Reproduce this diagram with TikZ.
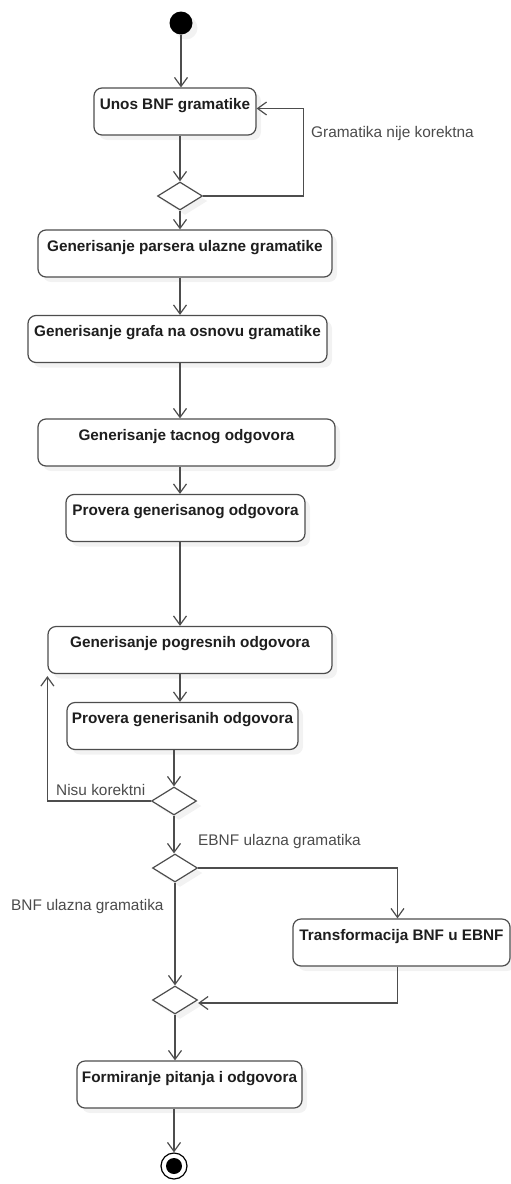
\documentclass[tikz,border=0pt]{standalone}
\usepackage{fontspec}
\setmainfont{Liberation Sans}
\usetikzlibrary{arrows.meta,positioning,shapes.geometric,shadows}
\definecolor{linegray}{RGB}{77,77,77}
\definecolor{textdark}{RGB}{30,30,30}
\definecolor{guardgray}{RGB}{75,75,75}
\tikzset{
  flow/.style={draw=linegray,line width=1.2pt,-{Straight Barb[length=9pt,width=13pt]}},
  softshadow/.style={drop shadow={shadow xshift=5pt,shadow yshift=-5pt,opacity=0.1}},
  act/.style={rectangle,rounded corners=8pt,draw=linegray,line width=1.2pt,fill=white,
    text=textdark,font=\fontsize{15.3}{18}\selectfont\bfseries,
    inner ysep=0pt,text height=21pt,text depth=26pt,softshadow},
  choice/.style={diamond,draw=linegray,line width=1.2pt,fill=white,inner sep=0pt,
    minimum width=45pt,minimum height=28pt,softshadow},
  initial/.style={circle,fill=black,inner sep=0pt,minimum size=23pt,softshadow},
  final/.style={circle,draw=black,line width=1.2pt,fill=white,inner sep=0pt,minimum size=26pt,
    path picture={\fill[black] (path picture bounding box.center) circle (8pt);}},
  guard/.style={text=guardgray,font=\fontsize{15.4}{18}\selectfont,inner sep=2pt}
}

\begin{document}
\begin{tikzpicture}[x=1pt,y=-1pt]
  \useasboundingbox (0,0) rectangle (511,1184);
  % column of the main flow
  \coordinate (spine) at (180,0);

  % activities and decisions
  \node[initial] (start) at (181,23) {};
  \node[act,minimum width=162pt] (unos) at (175,111.5) {Unos BNF gramatike};
  \node[choice] (d1) at (180,196) {};
  \node[act,minimum width=294pt] (parser) at (185,253.5) {Generisanje parsera ulazne gramatike};
  \node[act,minimum width=299pt] (graf) at (177.5,339) {Generisanje grafa na osnovu gramatike};
  \node[act,minimum width=297pt] (tacan) at (186.5,442.5) {Generisanje tacnog odgovora};
  \node[act,minimum width=239pt] (provera1) at (185.5,518) {Provera generisanog odgovora};
  \node[act,minimum width=284pt] (pogresni) at (190,650) {Generisanje pogresnih odgovora};
  \node[act,minimum width=231pt] (provera2) at (182.5,726) {Provera generisanih odgovora};
  \node[choice] (d2) at (174,801) {};
  \node[choice] (d3) at (175,868) {};
  \node[act,minimum width=217pt] (transf) at (401.5,942.5) {Transformacija BNF u EBNF};
  \node[choice] (d4) at (175,1000) {};
  \node[act,minimum width=225pt] (formir) at (189.5,1084.5) {Formiranje pitanja i odgovora};
  \node[final] (stop) at (174,1166) {};

  % guards
  \node[guard,anchor=west] (g1) at (309,134) {Gramatika nije korektna};
  \node[guard,anchor=west] (g2) at (54,790) {Nisu korektni};
  \node[guard,anchor=west] (g3) at (196,842) {EBNF ulazna gramatika};
  \node[guard,anchor=west] (g4) at (9,907) {BNF ulazna gramatika};

  % main flow
  \draw[flow] (start) -- (start |- unos.north);
  \draw[flow] (d1 |- unos.south) -- (d1.north);
  \draw[flow] (d1.south) -- (d1 |- parser.north);
  \draw[flow] (spine |- parser.south) -- (spine |- graf.north);
  \draw[flow] (spine |- graf.south) -- (spine |- tacan.north);
  \draw[flow] (spine |- tacan.south) -- (spine |- provera1.north);
  \draw[flow] (spine |- provera1.south) -- (spine |- pogresni.north);
  \draw[flow] (spine |- pogresni.south) -- (spine |- provera2.north);
  \draw[flow] (d2 |- provera2.south) -- (d2.north);
  \draw[flow] (d2.south) -- (d2 |- d3.north);
  \draw[flow] (d3.south) -- (d4.north);
  \draw[flow] (d4.south) -- (d4 |- formir.north);
  \draw[flow] (stop |- formir.south) -- (stop);

  % loops back
  \draw[flow] (d1.east) -| ([xshift=47pt,yshift=3pt]unos.east) -- ([yshift=3pt]unos.east);
  \draw[flow] (d2.west) -| ([yshift=-2pt]pogresni.south west);

  % EBNF branch
  \draw[flow] (d3.east) -| ([xshift=-4pt]transf.north);
  \draw[flow] ([xshift=-4pt]transf.south) |- ([yshift=-3pt]d4.east);
\end{tikzpicture}
\end{document}
